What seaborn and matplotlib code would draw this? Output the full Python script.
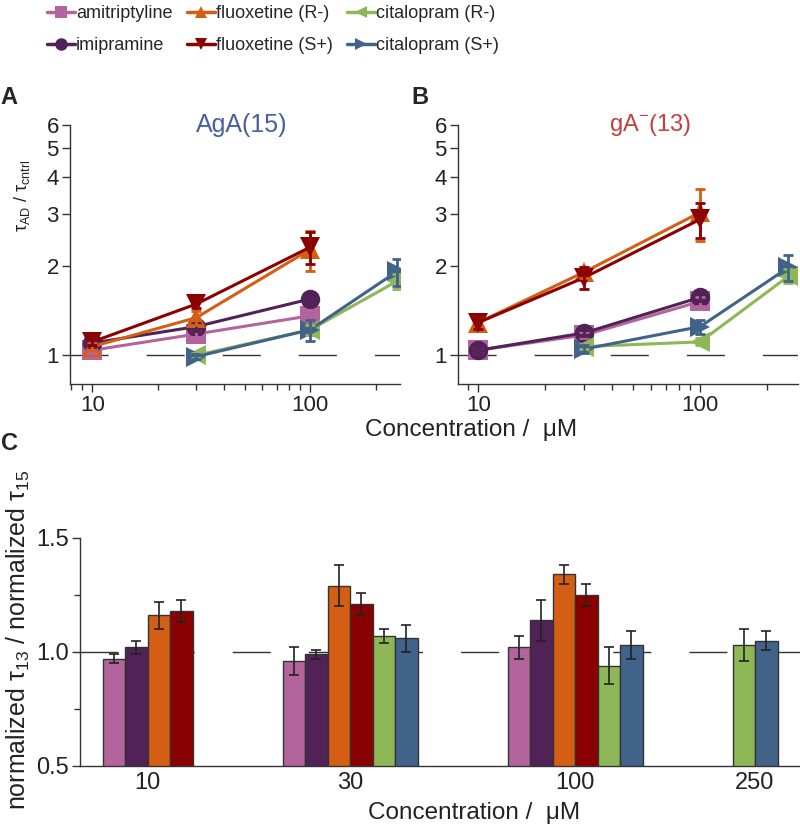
import matplotlib
matplotlib.use("Agg")

import numpy as np
import pandas as pd
import matplotlib.pyplot as plt
import seaborn as sns
from matplotlib.lines import Line2D
from matplotlib.ticker import FixedLocator, NullFormatter, FormatStrFormatter

sns.set_theme(style="ticks")
plt.rcParams["font.family"] = ["Liberation Sans", "DejaVu Sans"]
plt.rcParams["mathtext.fontset"] = "custom"
plt.rcParams["mathtext.rm"] = "Liberation Sans"

# ---- data ----
drogas = ["amitriptyline", "imipramine", "fluoxetine (R-)", "fluoxetine (S+)",
          "citalopram (R-)", "citalopram (S+)"]
cores = ["#b4649c", "#502258", "#d45f14", "#8b0000", "#8eb857", "#426389"]
marcadores = ["s", "o", "^", "v", "<", ">"]

conc_tca = [10, 30, 100]     # amitriptyline, imipramine, fluoxetine
conc_cit = [30, 100, 250]    # citalopram

# painel A: AgA(15)
a_ami = [1.04, 1.18, 1.36]
a_imi = [1.10, 1.25, 1.55]
a_fluR = [1.07, 1.34, 2.28]
a_fluS = [1.11, 1.49, 2.32]
a_citR = [1.00, 1.22, 1.78]
a_citS = [0.99, 1.22, 1.92]
a_err_ami = [0.02, 0.03, 0.06]
a_err_imi = [0.03, 0.04, 0.05]
a_err_fluR = [0.03, 0.07, 0.35]
a_err_fluS = [0.03, 0.05, 0.28]
a_err_citR = [0.02, 0.05, 0.10]
a_err_citS = [0.02, 0.10, 0.20]

# painel B: gA-(13)
b_ami = [1.04, 1.17, 1.52]
b_imi = [1.04, 1.19, 1.57]
b_fluR = [1.29, 1.91, 3.04]
b_fluS = [1.29, 1.83, 2.88]
b_citR = [1.07, 1.11, 1.85]
b_citS = [1.05, 1.25, 1.98]
b_err_ami = [0.02, 0.03, 0.05]
b_err_imi = [0.02, 0.03, 0.05]
b_err_fluR = [0.06, 0.08, 0.60]
b_err_fluS = [0.06, 0.15, 0.38]
b_err_citR = [0.02, 0.03, 0.10]
b_err_citS = [0.03, 0.07, 0.20]

# painel C: normalized tau13 / normalized tau15
conc_c = ["10", "30", "100", "250"]
c_ami = [0.97, 0.96, 1.02, np.nan]
c_imi = [1.02, 0.99, 1.14, np.nan]
c_fluR = [1.16, 1.29, 1.34, np.nan]
c_fluS = [1.18, 1.21, 1.25, np.nan]
c_citR = [np.nan, 1.07, 0.94, 1.03]
c_citS = [np.nan, 1.06, 1.03, 1.05]
c_err_ami = [0.02, 0.06, 0.05, np.nan]
c_err_imi = [0.03, 0.02, 0.09, np.nan]
c_err_fluR = [0.06, 0.09, 0.04, np.nan]
c_err_fluS = [0.05, 0.05, 0.05, np.nan]
c_err_citR = [np.nan, 0.03, 0.08, 0.07]
c_err_citS = [np.nan, 0.06, 0.06, 0.04]

# layout: first slot of each concentration group in panel C
inicio_grupo = [0, 8, 18, 24]

paleta = dict(zip(drogas, cores))
marc = dict(zip(drogas, marcadores))


def montar_linhas(vals, errs):
    linhas = []
    for d, v, e in zip(drogas, vals, errs):
        xs = conc_cit if d.startswith("citalopram") else conc_tca
        for x, y, s in zip(xs, v, e):
            linhas.append({"drug": d, "conc": x, "ratio": y, "err": s})
    return pd.DataFrame(linhas)


df_a = montar_linhas([a_ami, a_imi, a_fluR, a_fluS, a_citR, a_citS],
                     [a_err_ami, a_err_imi, a_err_fluR, a_err_fluS, a_err_citR, a_err_citS])
df_b = montar_linhas([b_ami, b_imi, b_fluR, b_fluS, b_citR, b_citS],
                     [b_err_ami, b_err_imi, b_err_fluR, b_err_fluS, b_err_citR, b_err_citS])

barras = []
for i, (d, v, e) in enumerate(zip(drogas,
                                  [c_ami, c_imi, c_fluR, c_fluS, c_citR, c_citS],
                                  [c_err_ami, c_err_imi, c_err_fluR, c_err_fluS, c_err_citR, c_err_citS])):
    for g, (y, s) in enumerate(zip(v, e)):
        if not np.isnan(y):
            barras.append({"drug": d, "grupo": g, "pos": inicio_grupo[g] + i, "val": y, "err": s})
df_c = pd.DataFrame(barras)

# ---- figure ----
fig = plt.figure(figsize=(8, 8.27), dpi=100)
ax_a = fig.add_axes([0.0875, 0.5357, 0.4125, 0.3132])
ax_b = fig.add_axes([0.5725, 0.5357, 0.425, 0.3132])
ax_c = fig.add_axes([0.10, 0.0738, 0.90, 0.2757])

tracejado = (27.4, 27.4)
TXT = "#222222"


def painel_linhas(ax, df, xlim):
    ax.set_xscale("log")
    ax.set_yscale("log")
    ax.axhline(1.0, color="#333333", lw=1.0, dashes=tracejado, zorder=1)
    sns.lineplot(data=df, x="conc", y="ratio", hue="drug", style="drug",
                 hue_order=drogas, style_order=drogas, palette=paleta,
                 markers=marc, dashes=False, markersize=14, markeredgewidth=0,
                 linewidth=2.2, legend=False, sort=False, ax=ax, zorder=3)
    for d in drogas:
        sub = df[df["drug"] == d]
        ax.errorbar(sub["conc"], sub["ratio"], yerr=sub["err"], fmt="none",
                    ecolor=paleta[d], elinewidth=2, capsize=3.5, capthick=2,
                    zorder=4)
    ax.set_xlim(*xlim)
    ax.set_ylim(0.8, 6)
    ax.yaxis.set_major_locator(FixedLocator([1, 2, 3, 4, 5, 6]))
    ax.yaxis.set_major_formatter(FormatStrFormatter("%d"))
    ax.yaxis.set_minor_locator(FixedLocator([]))
    ax.xaxis.set_major_locator(FixedLocator([10, 100]))
    ax.xaxis.set_major_formatter(FormatStrFormatter("%d"))
    ax.xaxis.set_minor_locator(FixedLocator([8, 9, 20, 30, 40, 50, 60, 70, 80, 90, 200]))
    ax.xaxis.set_minor_formatter(NullFormatter())
    ax.tick_params(axis="both", which="major", labelsize=16, length=6, width=1,
                   color="#333333", labelcolor=TXT, pad=2)
    ax.tick_params(axis="x", which="minor", length=4, width=1, color="#333333")
    ax.set_xlabel("")
    ax.set_ylabel("")
    for lado in ["top", "right"]:
        ax.spines[lado].set_visible(False)
    for lado in ["left", "bottom"]:
        ax.spines[lado].set_color("#333333")
        ax.spines[lado].set_linewidth(1)


painel_linhas(ax_a, df_a, (7.9, 258))
painel_linhas(ax_b, df_b, (8.1, 276))

ax_a.set_ylabel(r"τ$_{\mathrm{AD}}$ / τ$_{\mathrm{cntrl}}$", fontsize=13, color=TXT)
ax_a.yaxis.set_label_coords(-0.115, 0.726)

ax_a.text(0.52, 1.0, "AgA(15)", transform=ax_a.transAxes, ha="center", va="center",
          fontsize=18, color="#4a5f9f")
ax_b.text(0.565, 1.0, r"gA$^{\mathrm{-}}$(13)", transform=ax_b.transAxes, ha="center",
          va="center", fontsize=17, color="#c04040")

# painel C
ax_c.axhline(1.0, color="#333333", lw=1.0, dashes=tracejado, zorder=0)
sns.barplot(data=df_c, x="pos", y="val", hue="drug", hue_order=drogas, palette=paleta,
            native_scale=True, dodge=False, width=1, errorbar=None, legend=False,
            edgecolor="#333333", linewidth=1, saturation=1, ax=ax_c, zorder=2)
ax_c.errorbar(df_c["pos"], df_c["val"], yerr=df_c["err"], fmt="none", ecolor=TXT,
              elinewidth=1.2, capsize=3.5, capthick=1.2, zorder=4)
ax_c.set_xlim(-1.5, 30.5)
ax_c.set_ylim(0.5, 1.5)
centros = df_c.groupby("grupo")["pos"].mean().sort_index()
ax_c.set_xticks(centros.values)
ax_c.set_xticklabels(conc_c)
ax_c.yaxis.set_major_locator(FixedLocator([0.5, 1.0, 1.5]))
ax_c.yaxis.set_major_formatter(FormatStrFormatter("%.1f"))
ax_c.yaxis.set_minor_locator(FixedLocator([0.75, 1.25]))
ax_c.tick_params(axis="y", which="major", labelsize=17, length=6, width=1,
                 color="#333333", labelcolor=TXT, pad=2)
ax_c.tick_params(axis="y", which="minor", length=4, width=1, color="#333333")
ax_c.tick_params(axis="x", which="major", labelsize=17, length=0, labelcolor=TXT, pad=4)
ax_c.set_xlabel("")
ax_c.set_ylabel(r"normalized τ$_{\mathrm{13}}$ / normalized τ$_{\mathrm{15}}$",
                fontsize=18, color=TXT)
ax_c.yaxis.set_label_coords(-0.067, 0.553)
for lado in ["top", "right"]:
    ax_c.spines[lado].set_visible(False)
for lado in ["left", "bottom"]:
    ax_c.spines[lado].set_color("#333333")
    ax_c.spines[lado].set_linewidth(1)

# rotulos dos eixos x
fig.text(471 / 800, 1 - 430 / 827, "Concentration /  μM", ha="center", va="center",
         fontsize=17.5, color=TXT)
fig.text(474 / 800, 1 - 813 / 827, "Concentration /  μM", ha="center", va="center",
         fontsize=17.5, color=TXT)

# letras dos paineis
fig.text(0.001, 1 - 97 / 827, "A", fontsize=17, fontweight="bold", va="center")
fig.text(0.514, 1 - 97 / 827, "B", fontsize=17, fontweight="bold", va="center")
fig.text(0.001, 1 - 444 / 827, "C", fontsize=17, fontweight="bold", va="center")

# legenda
alcas = [Line2D([0], [0], color=paleta[d], marker=marc[d], markersize=9, lw=2.5,
                markeredgewidth=0) for d in drogas]
fig.legend(alcas, drogas, ncol=3, loc="upper left", bbox_to_anchor=(0.058, 0.995),
           frameon=False, fontsize=13, handlelength=1.55, handletextpad=0.05,
           columnspacing=0.8, labelspacing=0.85, borderaxespad=0, borderpad=0.05)

fig.savefig("out.png", dpi=100)
